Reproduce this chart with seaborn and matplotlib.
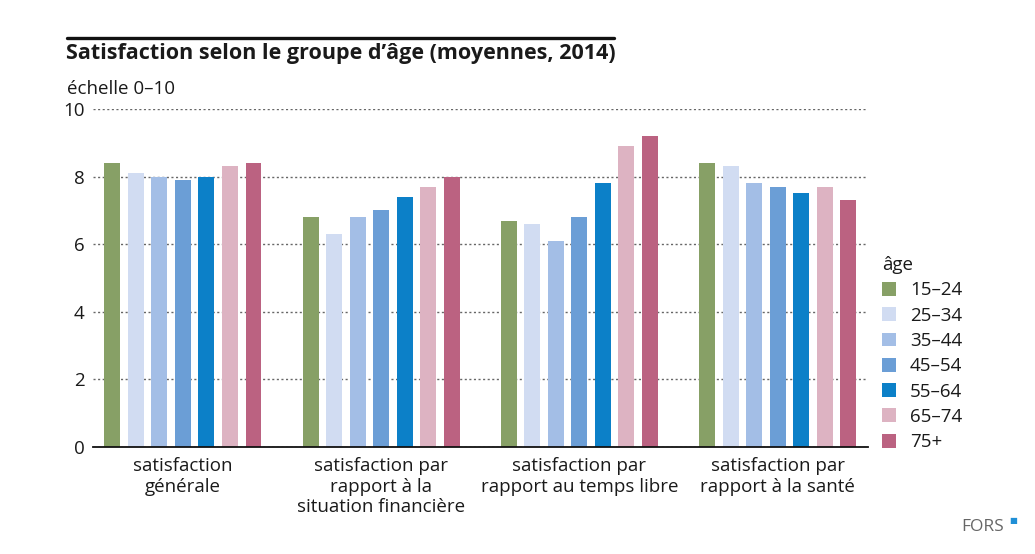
"""
Satisfaction selon le groupe d'âge (moyennes, 2014) - grouped bar chart
"""

import matplotlib

matplotlib.use("Agg")
import matplotlib.pyplot as plt  # type: ignore
import pandas as pd
import seaborn as sns  # type: ignore
from matplotlib.lines import Line2D

# categories on the x axis
domains = [
    "satisfaction\ngénérale",
    "satisfaction par\nrapport à la\nsituation financière",
    "satisfaction par\nrapport au temps libre",
    "satisfaction par\nrapport à la santé",
]

age_groups = ["15–24", "25–34", "35–44", "45–54", "55–64", "65–74", "75+"]

# mean satisfaction (scale 0-10), one list per age group, in domain order
age_15_24 = [8.4, 6.8, 6.7, 8.4]
age_25_34 = [8.1, 6.3, 6.6, 8.3]
age_35_44 = [8.0, 6.8, 6.1, 7.8]
age_45_54 = [7.9, 7.0, 6.8, 7.7]
age_55_64 = [8.0, 7.4, 7.8, 7.5]
age_65_74 = [8.3, 7.7, 8.9, 7.7]
age_75_plus = [8.4, 8.0, 9.2, 7.3]

colors = ["#87a066", "#d1dcf2", "#a3bee6", "#6b9ed6", "#0c80c8", "#ddb3c2", "#bb6281"]

TEXT = "#1a1a1a"
FS = 13.5


def build_df() -> pd.DataFrame:
    series = [age_15_24, age_25_34, age_35_44, age_45_54, age_55_64, age_65_74, age_75_plus]
    rows = []
    for age, values in zip(age_groups, series):
        for dom, v in zip(domains, values):
            rows.append({"domaine": dom, "âge": age, "valeur": v})
    return pd.DataFrame(rows)


def main() -> None:
    df = build_df()

    sns.set_theme(style="white")
    plt.rcParams["font.family"] = ["Open Sans", "DejaVu Sans"]
    plt.rcParams["text.color"] = TEXT

    fig = plt.figure(figsize=(10.35, 5.54), dpi=100)
    ax = fig.add_axes([93 / 1035, 1 - 447 / 554, (868 - 93) / 1035, (447 - 109) / 554])

    sns.barplot(
        data=df,
        x="domaine",
        y="valeur",
        hue="âge",
        hue_order=age_groups,
        order=domains,
        palette=colors,
        width=0.83,
        gap=0.32,
        saturation=1,
        errorbar=None,
        linewidth=0,
        ax=ax,
    )

    ax.set_ylim(0, 10)
    ax.set_xlim(-0.454, 3.456)
    ax.set_yticks([0, 2, 4, 6, 8, 10])
    ax.set_xlabel("")
    ax.set_ylabel("")

    # dotted grid lines behind the bars
    ax.set_axisbelow(True)
    ax.yaxis.grid(True, color="#666666", linestyle=(0, (1.5, 1.8)), linewidth=1.0)
    ax.xaxis.grid(False)

    for side in ["top", "right", "left"]:
        ax.spines[side].set_visible(False)
    ax.spines["bottom"].set_color("#111111")
    ax.spines["bottom"].set_linewidth(1.3)

    ax.tick_params(axis="y", length=0, pad=6, labelsize=FS, labelcolor=TEXT)
    ax.tick_params(axis="x", length=0, pad=7, labelsize=FS, labelcolor=TEXT)
    for lbl in ax.get_xticklabels():
        lbl.set_linespacing(1.2)

    # legend
    leg = ax.legend(
        title="âge",
        loc="upper left",
        bbox_to_anchor=(882 / 1035, 1 - 256 / 554),
        bbox_transform=fig.transFigure,
        frameon=False,
        fontsize=FS,
        title_fontsize=FS,
        handlelength=0.75,
        handleheight=0.75,
        handletextpad=0.75,
        labelspacing=0.39,
        borderaxespad=0,
        borderpad=0,
    )
    leg._legend_box.align = "left"
    for t in leg.get_texts():
        t.set_color(TEXT)
    leg.get_title().set_color(TEXT)

    # title block
    fig.add_artist(
        Line2D([67 / 1035, 614 / 1035], [1 - 38 / 554] * 2, color="#111111", linewidth=2.4)
    )
    fig.text(
        66 / 1035,
        1 - 53 / 554,
        "Satisfaction selon le groupe d’âge (moyennes, 2014)",
        fontsize=15.5,
        fontweight="bold",
        va="center",
        ha="left",
        color=TEXT,
    )
    fig.text(
        67 / 1035,
        1 - 89 / 554,
        "échelle 0–10",
        fontsize=FS,
        va="center",
        ha="left",
        color=TEXT,
    )

    # source mark
    fig.text(
        1004 / 1035,
        1 - 527 / 554,
        "FORS",
        fontsize=12.5,
        va="center",
        ha="right",
        color="#666666",
    )
    fig.text(
        1013 / 1035,
        1 - 520 / 554,
        "■",
        fontsize=6,
        va="center",
        ha="center",
        color="#1f8fd6",
        family="DejaVu Sans",
    )

    fig.savefig("out.png", dpi=100)


if __name__ == "__main__":
    main()
